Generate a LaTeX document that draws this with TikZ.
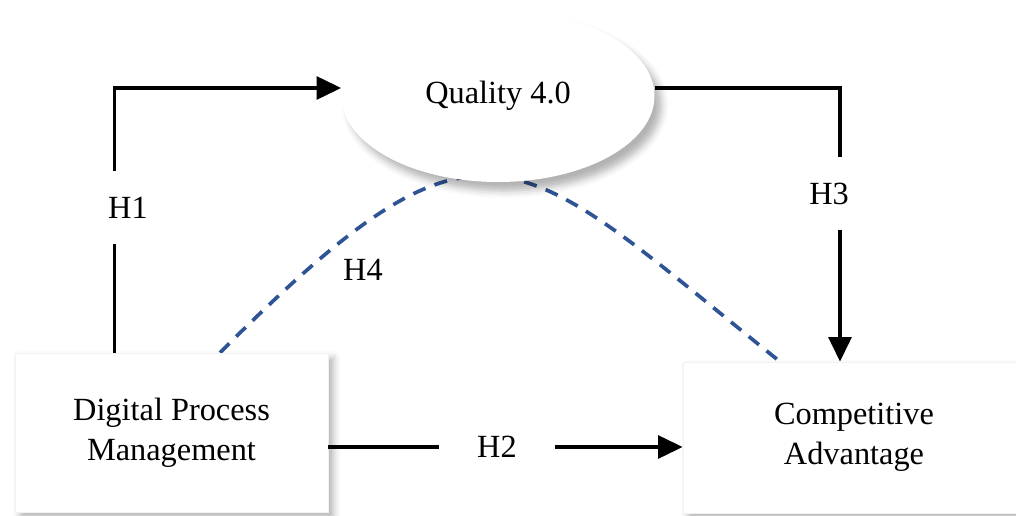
\documentclass[tikz,border=0pt]{standalone}
\usepackage{fontspec}
\setmainfont{Liberation Serif}
\usetikzlibrary{shapes.geometric,arrows.meta,shadows.blur,backgrounds}
\definecolor{hypblue}{RGB}{47,84,150}

\begin{document}
\begin{tikzpicture}[
  every node/.style={font=\fontsize{18.4}{22.7}\selectfont},
  box/.style={draw=gray!10, fill=white, align=center, inner sep=0pt,
    blur shadow={shadow xshift=3pt, shadow yshift=-3pt, shadow blur radius=4pt, shadow opacity=30}},
  oval/.style={ellipse, fill=white, minimum width=6.26cm, minimum height=3.44cm, inner sep=0pt,
    blur shadow={shadow xshift=4pt, shadow yshift=-5pt, shadow blur radius=4pt, shadow opacity=30}},
  gap/.style={inner sep=0pt, minimum height=1.44cm},
  link/.style={line width=2pt},
  arr/.style={line width=2pt, -{Triangle[length=14pt, width=13pt]}},
  hyp/.style={line width=2.1pt, hypblue, dash pattern=on 7.5pt off 5.5pt}
]
\useasboundingbox (0,0) rectangle (20.32,10.3);
\node [box, minimum width=6.26cm, minimum height=3.18cm] (DPM) at (3.43,1.65) {Digital Process\\Management};
\node [box, minimum width=6.84cm, minimum height=3.02cm] (CA) at (17.08,1.55) {Competitive\\Advantage};
\node [oval] (Q40) at (9.96,8.38) {Quality 4.0};
\node [gap] (H1) at (2.56,6.15) {H1};
\node [gap] (H3) at (16.58,6.43) {H3};
\node [gap, minimum width=2.3cm] (H2) at (9.94,1.36) {H2};
\node (H4) at (7.26,4.9) {H4};
\coordinate (h1a) at ([xshift=2cm]DPM.north west);
\coordinate (h3a) at ([xshift=-0.28cm]CA.north);
\draw [link] (h1a) -- (h1a |- H1.south);
\draw [arr] (h1a |- H1.north) |- ([yshift=0.16cm]Q40.west);
\draw [link] ([yshift=0.16cm]Q40.east) -| (h3a |- H3.north);
\draw [arr] (h3a |- H3.south) -- (h3a);
\draw [link] (DPM.east |- H2.west) -- (H2.west);
\draw [arr] (H2.east) -- (H2.east -| CA.west);
\begin{pgfonlayer}{background}
\draw [hyp] ([xshift=0.97cm]DPM.north) .. controls +(5.34,5.34) and +(-5.34,4.28) .. ([xshift=-1.48cm]CA.north);
\end{pgfonlayer}
\end{tikzpicture}
\end{document}
